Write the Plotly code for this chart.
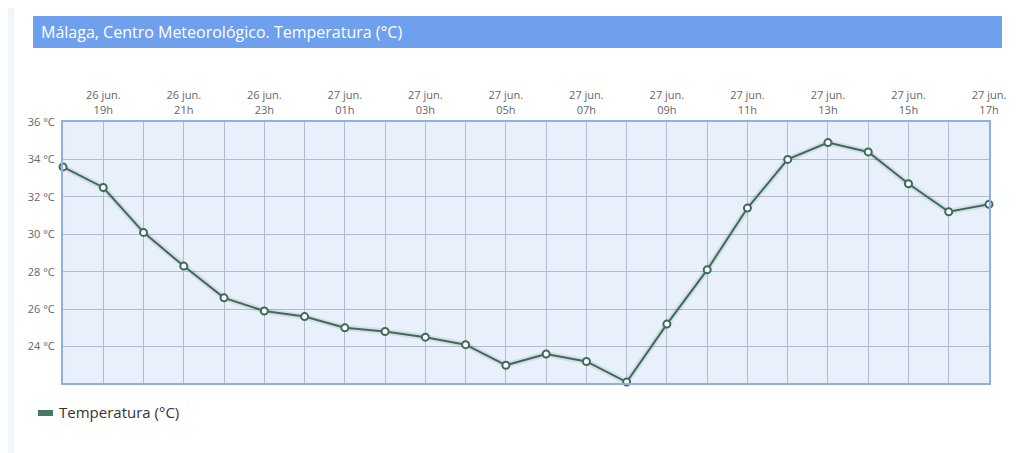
import plotly.graph_objects as go

# Hourly observations, 26 jun. 18h -> 27 jun. 17h
hours = ['26 jun. 18h', '26 jun. 19h', '26 jun. 20h', '26 jun. 21h',
         '26 jun. 22h', '26 jun. 23h', '27 jun. 00h', '27 jun. 01h',
         '27 jun. 02h', '27 jun. 03h', '27 jun. 04h', '27 jun. 05h',
         '27 jun. 06h', '27 jun. 07h', '27 jun. 08h', '27 jun. 09h',
         '27 jun. 10h', '27 jun. 11h', '27 jun. 12h', '27 jun. 13h',
         '27 jun. 14h', '27 jun. 15h', '27 jun. 16h', '27 jun. 17h']
temperatura = [33.6, 32.5, 30.1, 28.3, 26.6, 25.9, 25.6, 25.0,
               24.8, 24.5, 24.1, 23.0, 23.6, 23.2, 22.1, 25.2,
               28.1, 31.4, 34.0, 34.9, 34.4, 32.7, 31.2, 31.6]
y_ticks = [24, 26, 28, 30, 32, 34, 36]

# top labels only every second hour, two lines
tick_text = ['' if i % 2 == 0 else h.replace('. ', '.<br>')
             for i, h in enumerate(hours)]
y_text = [f'{v} °C' for v in y_ticks]

line_color = '#3e6b59'

fig = go.Figure()

# soft shadow under the line
fig.add_scatter(
    x=hours, y=temperatura, mode='lines',
    line=dict(color='rgba(0,0,0,0.08)', width=6),
    hoverinfo='skip', showlegend=False,
)

fig.add_scatter(
    x=hours, y=temperatura, mode='lines+markers',
    line=dict(color=line_color, width=2),
    marker=dict(size=7, color='white', line=dict(color=line_color, width=2)),
    name='Temperatura (°C)', showlegend=False, cliponaxis=False,
)

# faint page decoration on the far left
fig.add_shape(
    type='rect', xref='paper', yref='paper',
    x0=-0.0680, x1=-0.0530, y0=-0.3, y1=1.47,
    fillcolor='#f1f6fb', line=dict(width=0), layer='below',
)

# title bar
fig.add_shape(
    type='rect', xref='paper', yref='paper',
    x0=-0.0324, x1=1.0140, y0=1.2835, y1=1.406,
    fillcolor='#6fa0ee', line=dict(width=0), layer='below',
)
fig.add_annotation(
    text='Málaga, Centro Meteorológico. Temperatura (°C)',
    xref='paper', yref='paper', x=-0.0262, y=1.345,
    xanchor='left', yanchor='middle', showarrow=False,
    font=dict(family='Open Sans', size=16, color='white'),
)

# legend: swatch + label
fig.add_shape(
    type='rect', xref='paper', yref='paper',
    x0=-0.0270, x1=-0.0108, y0=-0.1264, y1=-0.1034,
    fillcolor='#447a64', line=dict(width=0),
)
fig.add_annotation(
    text='Temperatura (°C)',
    xref='paper', yref='paper', x=-0.0070, y=-0.112,
    xanchor='left', yanchor='middle', showarrow=False,
    font=dict(family='Open Sans', size=15, color='#333333'),
)

fig.update_layout(
    width=1020, height=453,
    margin=dict(l=55, r=39, t=114, b=78),
    paper_bgcolor='white',
    plot_bgcolor='#e8f0fc',
    font=dict(family='Open Sans', size=11, color='#666666'),
    showlegend=False,
)

fig.update_xaxes(
    type='category', side='top',
    tickmode='array', tickvals=hours, ticktext=tick_text,
    range=[0, len(hours) - 1],
    showgrid=True, gridcolor='#b3bccb', gridwidth=1,
    showline=True, mirror=True, linecolor='#8fb0e4', linewidth=2,
    ticks='', ticklabelstandoff=2,
    tickfont=dict(family='Open Sans', size=11, color='#666666'),
)
fig.update_yaxes(
    range=[22.05, 36],
    tickmode='array', tickvals=y_ticks, ticktext=y_text,
    showgrid=True, gridcolor='#b3bccb', gridwidth=1,
    showline=True, mirror=True, linecolor='#8fb0e4', linewidth=2,
    zeroline=False, ticks='', ticklabelstandoff=4,
    tickfont=dict(family='Open Sans', size=11, color='#666666'),
)

fig.write_html('out.html')
